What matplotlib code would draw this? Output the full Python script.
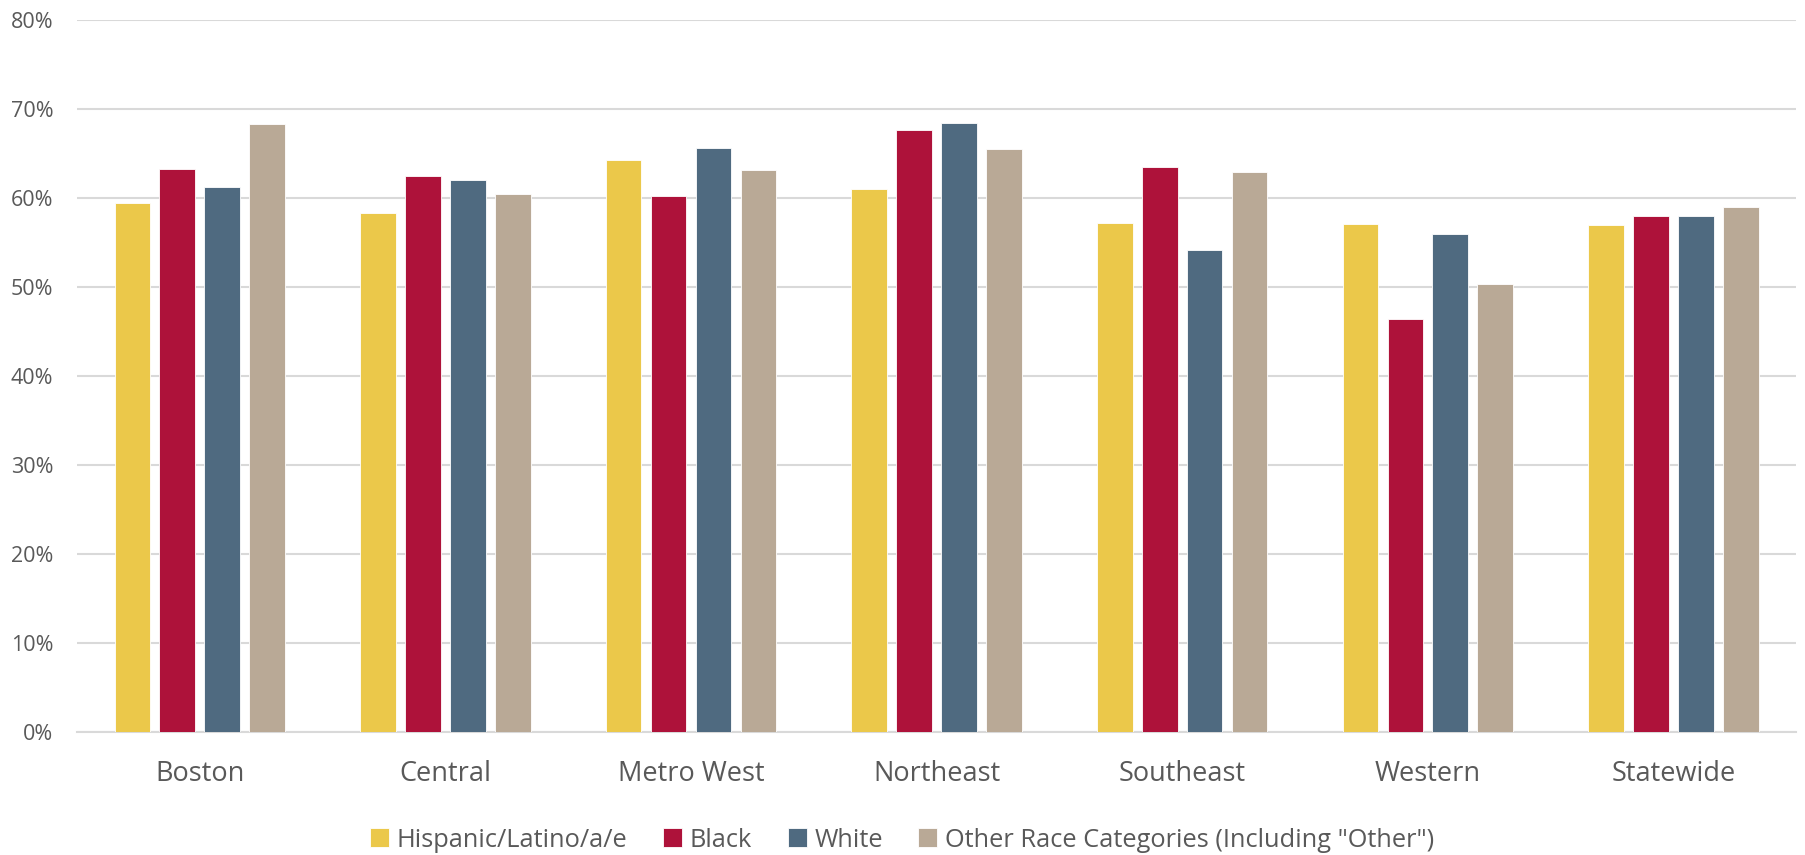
import matplotlib
matplotlib.use("Agg")
import matplotlib.pyplot as plt
import numpy as np
from matplotlib.ticker import PercentFormatter

regions = ["Boston", "Central", "Metro West", "Northeast", "Southeast", "Western", "Statewide"]
series_names = ["Hispanic/Latino/a/e", "Black", "White", 'Other Race Categories (Including "Other")']
hispanic = [59.5, 58.4, 64.3, 61.0, 57.2, 57.1, 57.0]
black = [63.3, 62.5, 60.2, 67.7, 63.5, 46.4, 58.0]
white = [61.3, 62.1, 65.6, 68.5, 54.2, 56.0, 58.0]
other = [68.3, 60.5, 63.2, 65.5, 63.0, 50.4, 59.0]
colors = ["#EBC84A", "#AE123A", "#4F6A80", "#B9A996"]

plt.rcParams['font.family'] = ['Open Sans', 'DejaVu Sans']
fig = plt.figure(figsize=(18.06, 8.55), dpi=100)
ax = fig.add_axes([0.0426, 0.1435, 0.952, 0.8328])

x = np.arange(len(regions))
width = 0.145
step = 0.183
all_series = [hispanic, black, white, other]
for i, (vals, name, c) in enumerate(zip(all_series, series_names, colors)):
    offs = (i - 1.5) * step
    ax.bar(x + offs, vals, width=width, color=c, label=name, zorder=3,
           edgecolor="white", linewidth=0.6)

ax.set_xlim(-0.5, len(regions) - 0.5)
ax.set_ylim(0, 80)
ax.set_yticks(np.arange(0, 81, 10))
ax.yaxis.set_major_formatter(PercentFormatter(decimals=0))
ax.grid(axis="y", color="#D9D9D9", linewidth=1.5, zorder=0)
for s in ["top", "right", "left"]:
    ax.spines[s].set_visible(False)
ax.spines["bottom"].set_color("#D9D9D9")
ax.spines["bottom"].set_linewidth(1.5)
ax.tick_params(axis="y", length=0, pad=17, labelsize=15.5, labelcolor="#595959")
ax.tick_params(axis="x", length=0, pad=20, labelsize=19.5, labelcolor="#595959")
ax.set_xticks(x)
ax.set_xticklabels(regions)

leg = fig.legend(loc="center", bbox_to_anchor=(0.4995, 0.0175), ncol=4, frameon=False,
                 fontsize=18.3, handlelength=0.75, handleheight=0.75, handletextpad=0.3,
                 columnspacing=1.4)
for t in leg.get_texts():
    t.set_color("#595959")

fig.savefig("out.png", dpi=100)
